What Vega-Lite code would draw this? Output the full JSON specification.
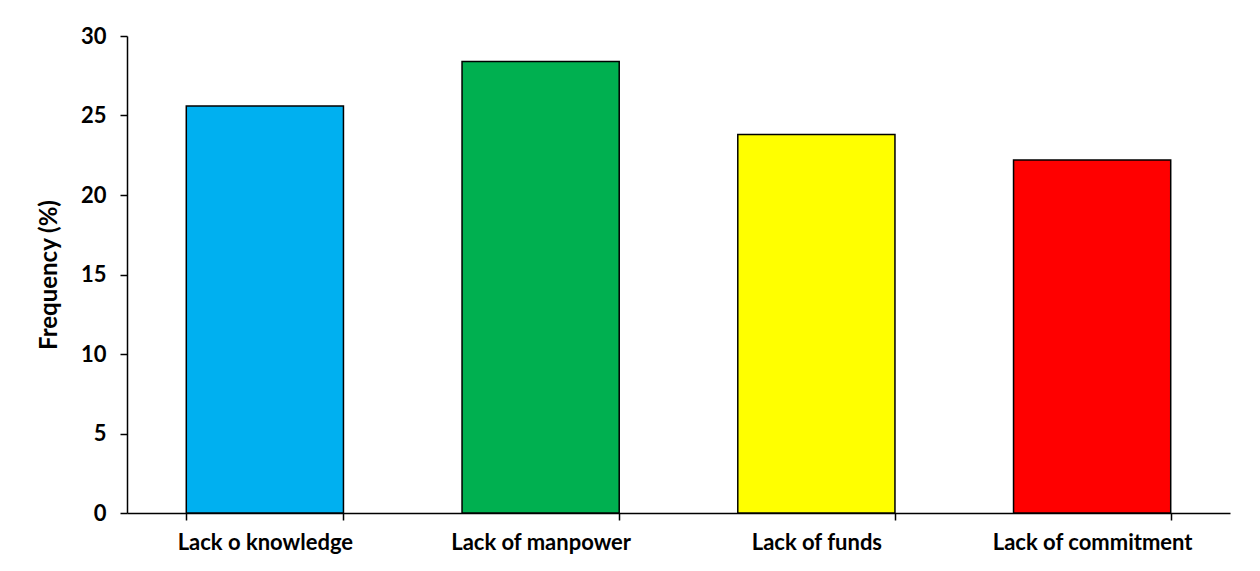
{
  "$schema": "https://vega.github.io/schema/vega-lite/v6.json",
  "autosize": {"type": "none"},
  "padding": {"left": 127, "top": 36, "right": 30, "bottom": 58},
  "width": 1103,
  "height": 477,
  "background": "white",
  "config": {
    "view": {"stroke": null},
    "font": "Lato"
  },
  "data": {
    "values": [
      {"constraint": "Lack o knowledge", "frequency": 25.6, "colour": "#00B0F0"},
      {"constraint": "Lack of manpower", "frequency": 28.4, "colour": "#00B050"},
      {"constraint": "Lack of funds", "frequency": 23.8, "colour": "#FFFF00"},
      {"constraint": "Lack of commitment", "frequency": 22.2, "colour": "#FF0000"}
    ]
  },
  "mark": {"type": "bar", "stroke": "black", "strokeWidth": 1.5},
  "encoding": {
    "x": {
      "field": "constraint",
      "type": "nominal",
      "sort": null,
      "scale": {"paddingInner": 0.43, "paddingOuter": 0.215},
      "axis": {
        "title": null,
        "labelAngle": 0,
        "labelFont": "Lato",
        "labelFontWeight": "bold",
        "labelFontSize": 22,
        "labelColor": "black",
        "labelLimit": 400,
        "labelPadding": 12,
        "tickBand": "extent",
        "tickSize": 7,
        "tickColor": "black",
        "tickWidth": 1.5,
        "domainColor": "black",
        "domainWidth": 1.5,
        "grid": false
      }
    },
    "y": {
      "field": "frequency",
      "type": "quantitative",
      "scale": {"domain": [0, 30], "nice": false},
      "axis": {
        "title": "Frequency (%)",
        "titleFont": "Lato",
        "titleFontWeight": "bold",
        "titleFontSize": 24,
        "titleColor": "black",
        "titlePadding": 19,
        "values": [0, 5, 10, 15, 20, 25, 30],
        "labelFont": "Lato",
        "labelFontWeight": "bold",
        "labelFontSize": 22,
        "labelColor": "black",
        "labelPadding": 14,
        "tickSize": 7,
        "tickColor": "black",
        "tickWidth": 1.5,
        "domainColor": "black",
        "domainWidth": 1.5,
        "grid": false
      }
    },
    "fill": {"field": "colour", "type": "nominal", "scale": null, "legend": null}
  }
}
